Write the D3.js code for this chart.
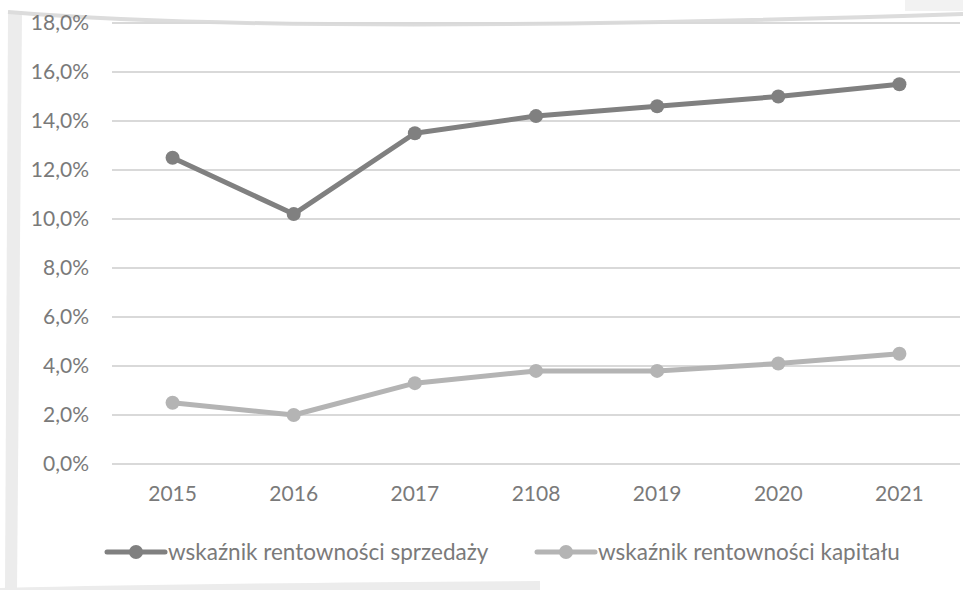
<!DOCTYPE html>
<html>
<head>
<meta charset="utf-8">
<script src="https://cdn.jsdelivr.net/npm/d3@7"></script>
<style>
  body { margin: 0; background: #fff; }
  svg { display: block; }
</style>
</head>
<body>
<svg id="chart" width="963" height="590"></svg>
<script>
// data
var years = ["2015", "2016", "2017", "2108", "2019", "2020", "2021"];
var sprzedazy = [12.5, 10.2, 13.5, 14.2, 14.6, 15.0, 15.5];
var kapitalu = [2.5, 2.0, 3.3, 3.8, 3.8, 4.1, 4.5];
var yTicks = [0, 2, 4, 6, 8, 10, 12, 14, 16, 18];
var seriesNames = ["wskaźnik rentowności sprzedaży", "wskaźnik rentowności kapitału"];
var seriesColors = ["#808080", "#b4b4b4"];

var svg = d3.select("#chart");
var font = "Lato, 'Open Sans', sans-serif";

// page-curl decorations around the picture
var deco = svg.append("g");
deco.append("path")
    .attr("d", "M8,14 L22,14 L17,590 L5,590 Z")
    .attr("fill", "#ececec");
deco.append("path")
    .attr("d", "M8,12 Q300,36 963,14")
    .attr("fill", "none").attr("stroke", "#dcdcdc").attr("stroke-width", 4);
deco.append("rect")
    .attr("x", 905).attr("y", 0).attr("width", 58).attr("height", 11)
    .attr("fill", "#f2f2f2");
deco.append("path")
    .attr("d", "M0,590 L0,588 Q200,583 540,581 L540,590 Z")
    .attr("fill", "#ececec");

var x = d3.scaleBand().domain(years).range([112, 960]);
var y = d3.scaleLinear().domain([0, 18]).range([464, 23]);

// gridlines
svg.append("g")
    .selectAll("line")
    .data(yTicks)
    .enter()
    .append("line")
    .attr("x1", 112).attr("x2", 960)
    .attr("y1", function (d) { return y(d); })
    .attr("y2", function (d) { return y(d); })
    .attr("stroke", "#d9d9d9")
    .attr("stroke-width", 2);

// y axis labels
var yAxis = svg.append("g")
    .attr("transform", "translate(89,0)")
    .call(d3.axisLeft(y).tickValues(yTicks).tickSize(0).tickPadding(0)
        .tickFormat(function (d) { return d.toFixed(1).replace(".", ",") + "%"; }));
yAxis.select(".domain").remove();
yAxis.selectAll("text")
    .attr("font-family", font)
    .attr("font-size", "21px")
    .attr("fill", "#7a7a7a");

// x axis labels
var xAxis = svg.append("g")
    .attr("transform", "translate(0,486)")
    .call(d3.axisBottom(x).tickSize(0).tickPadding(0));
xAxis.select(".domain").remove();
xAxis.selectAll("text")
    .attr("dy", "0.71em")
    .attr("font-family", font)
    .attr("font-size", "21px")
    .attr("fill", "#7a7a7a");

var line = d3.line()
    .x(function (d, i) { return x(years[i]) + x.bandwidth() / 2; })
    .y(function (d) { return y(d); });

[sprzedazy, kapitalu].forEach(function (vals, k) {
    var g = svg.append("g");
    g.append("path")
        .datum(vals)
        .attr("d", line)
        .attr("fill", "none")
        .attr("stroke", seriesColors[k])
        .attr("stroke-width", 5)
        .attr("stroke-linejoin", "round");
    g.selectAll("circle")
        .data(vals)
        .enter()
        .append("circle")
        .attr("cx", function (d, i) { return x(years[i]) + x.bandwidth() / 2; })
        .attr("cy", function (d) { return y(d); })
        .attr("r", 7)
        .attr("fill", seriesColors[k]);
});

// legend
var legendX = [107, 537];
var legend = svg.append("g")
    .selectAll("g")
    .data(seriesNames)
    .enter()
    .append("g")
    .attr("transform", function (d, i) { return "translate(" + legendX[i] + ",552)"; });
legend.append("line")
    .attr("x1", 0).attr("x2", 58)
    .attr("stroke", function (d, i) { return seriesColors[i]; })
    .attr("stroke-width", 5)
    .attr("stroke-linecap", "round");
legend.append("circle")
    .attr("cx", 29).attr("r", 7)
    .attr("fill", function (d, i) { return seriesColors[i]; });
legend.append("text")
    .attr("x", 61)
    .attr("dy", "0.35em")
    .attr("font-family", font)
    .attr("font-size", "22.5px")
    .attr("fill", "#7a7a7a")
    .text(function (d) { return d; });
</script>
</body>
</html>
